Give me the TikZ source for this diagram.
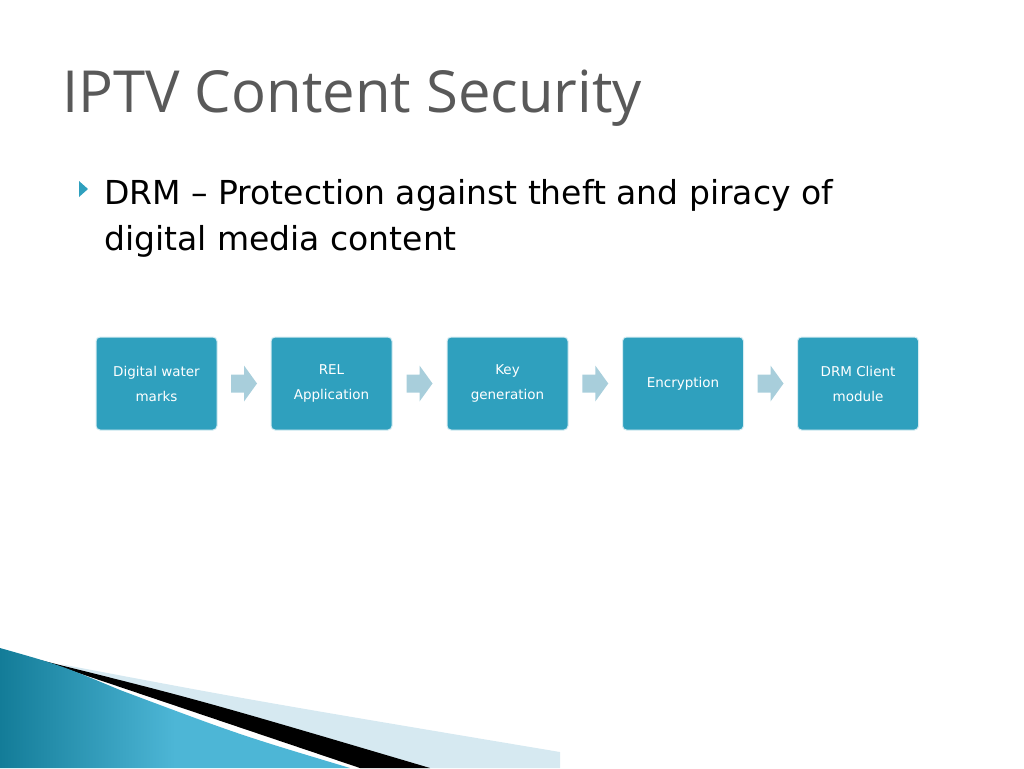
\documentclass[tikz,border=0pt]{standalone}
\usepackage{fontspec}
\setmainfont{DejaVu Sans}
\newfontfamily\titlefont{Open Sans}
\definecolor{boxc}{HTML}{2FA0BE}
\definecolor{arrc}{HTML}{A8CEDB}
\definecolor{titc}{HTML}{595959}
\definecolor{tealA}{HTML}{137C98}
\definecolor{tealB}{HTML}{4DB6D6}
\definecolor{lightb}{HTML}{D6E9F1}
\tikzset{
  stepbox/.style={draw=white!80!boxc, line width=1pt, fill=boxc, rounded corners=4pt,
    minimum width=121pt, minimum height=93pt, text=white, align=center,
    font=\fontsize{13.5}{25}\selectfont, inner sep=0pt},
  flowarrow/.style={fill=arrc, draw=none}
}
\begin{document}
\begin{tikzpicture}[x=1pt,y=-1pt]
\useasboundingbox (0,0) rectangle (1024,768);
% title
\node[anchor=base west, inner sep=0, text=titc, font=\titlefont\fontsize{58}{60}\selectfont] (title) at (62,112) {IPTV Content Security};
% bullet
\fill[boxc] (79,181) -- (88,189) -- (79,197) -- cycle;
\node[anchor=base west, inner sep=0, align=left, font=\fontsize{33}{46}\selectfont] (body) at (104,204) {DRM -- Protection against theft and piracy of};
\node[anchor=base west, inner sep=0, font=\fontsize{33}{46}\selectfont] (body2) at (104,250) {digital media content};
% boxes
\node[stepbox] (b1) at (156.5,383.5) {Digital water\\marks};
\node[stepbox] (b2) at (331.5,383.5) {REL\\Application};
\node[stepbox] (b3) at (507.5,383.5) {Key\\generation};
\node[stepbox] (b4) at (683,383.5) {Encryption};
\node[stepbox] (b5) at (858,383.5) {DRM Client\\module};
\foreach \a/\b in {b1/b2,b2/b3,b3/b4,b4/b5}{
  \path (\a.east) -- (\b.west) coordinate[pos=0.5] (m);
  \fill[flowarrow] ([shift={(-13,-9)}]m) -- ([shift={(0,-9)}]m) -- ([shift={(0,-18)}]m) -- ([shift={(13,0)}]m) -- ([shift={(0,18)}]m) -- ([shift={(0,9)}]m) -- ([shift={(-13,9)}]m) -- cycle;
}
% bottom decoration
\fill[lightb] (60,664) .. controls (250,700) .. (560,752) -- (560,768) -- (380,768) -- cycle;
\fill[black] (40,660) .. controls (200,700) .. (430,768) -- (360,768) -- cycle;
\shade[left color=tealA, right color=tealB, middle color=tealB] (0,648) .. controls (60,665) .. (120,690) .. controls (240,735) .. (350,768) -- (0,768) -- cycle;
\end{tikzpicture}
\end{document}
